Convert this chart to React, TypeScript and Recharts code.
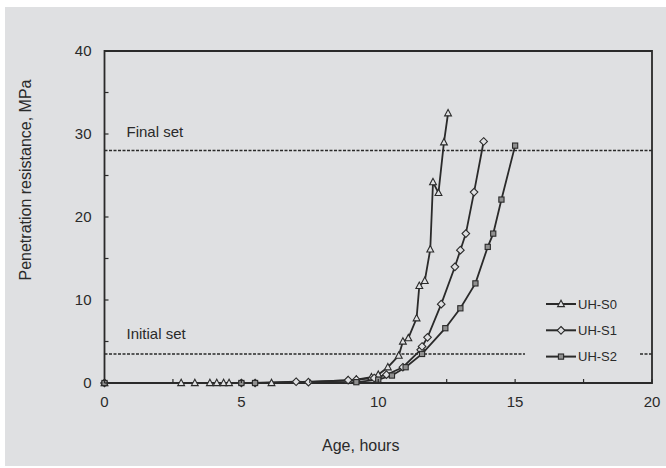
import {
  Label,
  Legend,
  Line,
  LineChart,
  ReferenceArea,
  ReferenceLine,
  XAxis,
  YAxis,
} from "recharts";

// penetration resistance (MPa) against age (hours) for the three mixes
const s0Hours = [0, 2.8, 3.3, 3.85, 4.1, 4.35, 4.55, 6.1, 8.9, 9.2, 9.75, 10.0, 10.35, 10.75, 10.9, 11.1, 11.4, 11.5, 11.7, 11.9, 12.0, 12.2, 12.4, 12.55];
const s0Mpa = [0, 0, 0, 0, 0, 0, 0, 0, 0.3, 0.4, 0.7, 1.0, 1.9, 3.3, 5.0, 5.4, 7.8, 11.7, 12.3, 16.1, 24.2, 22.9, 29.0, 32.5];

const s1Hours = [0, 5.0, 5.5, 7.0, 7.45, 8.9, 9.2, 9.85, 10.3, 10.9, 11.55, 11.6, 11.8, 12.3, 12.8, 13.0, 13.2, 13.5, 13.85];
const s1Mpa = [0, 0, 0, 0.15, 0.1, 0.35, 0.4, 0.6, 1.0, 1.9, 4.0, 4.4, 5.5, 9.5, 14.0, 16.0, 18.0, 23.0, 29.1];

const s2Hours = [0, 5.0, 5.5, 9.2, 10.0, 10.5, 11.0, 11.6, 12.45, 13.0, 13.55, 14.0, 14.2, 14.5, 15.0];
const s2Mpa = [0, 0, 0, 0.1, 0.4, 0.9, 1.9, 3.5, 6.6, 9.0, 12.0, 16.4, 18.0, 22.1, 28.6];

const seriesNames = ["UH-S0", "UH-S1", "UH-S2"];
const markerKinds = ["triangle", "diamond", "square"];

const xTicks = [0, 2.5, 5, 7.5, 10, 12.5, 15, 17.5, 20];
const yTicks = [0, 5, 10, 15, 20, 25, 30, 35, 40];

const initialSet = 3.5;
const finalSet = 28;

const BG = "#dfe0e2";
const INK = "#2a2a2a";
const FONT = "Arial, 'Liberation Sans', sans-serif";

const toPoints = (hours: number[], mpa: number[]) =>
  hours.map((h, i) => ({ hours: h, mpa: mpa[i] }));

const seriesData = [
  toPoints(s0Hours, s0Mpa),
  toPoints(s1Hours, s1Mpa),
  toPoints(s2Hours, s2Mpa),
];

const Marker = ({ kind, cx, cy }: { kind: string; cx: number; cy: number }) => {
  if (kind === "triangle") {
    return (
      <polygon
        points={`${cx},${cy - 3.8} ${cx - 3.4},${cy + 2.6} ${cx + 3.4},${cy + 2.6}`}
        fill={BG}
        stroke={INK}
        strokeWidth={1.1}
      />
    );
  }
  if (kind === "diamond") {
    return (
      <polygon
        points={`${cx},${cy - 3.8} ${cx + 3.8},${cy} ${cx},${cy + 3.8} ${cx - 3.8},${cy}`}
        fill={BG}
        stroke={INK}
        strokeWidth={1.1}
      />
    );
  }
  return (
    <rect x={cx - 2.6} y={cy - 2.6} width={5.2} height={5.2} fill="#8f8f8f" stroke={INK} strokeWidth={1.1} />
  );
};

const makeDot = (kind: string, prefix: string) => (props: any) => {
  const { cx, cy, index } = props;
  return (
    <g key={`${prefix}-${index}`}>
      <Marker kind={kind} cx={cx} cy={cy} />
    </g>
  );
};

// inside tick marks; numbers only on every other tick
const XTick = (props: any) => {
  const { x, y, payload } = props;
  const v = payload.value;
  return (
    <g>
      <line x1={x} y1={y} x2={x} y2={y - 4} stroke={INK} strokeWidth={1.2} />
      {v % 5 === 0 && (
        <text x={x} y={y + 19} dy="0.355em" textAnchor="middle" fontSize={15} fill={INK} fontFamily={FONT}>
          {v}
        </text>
      )}
    </g>
  );
};

const YTick = (props: any) => {
  const { x, y, payload } = props;
  const v = payload.value;
  return (
    <g>
      <line x1={x} y1={y} x2={x + 4} y2={y} stroke={INK} strokeWidth={1.2} />
      {v % 10 === 0 && (
        <text x={x - 13} y={y} dy="0.355em" textAnchor="end" fontSize={15} fill={INK} fontFamily={FONT}>
          {v}
        </text>
      )}
    </g>
  );
};

const LegendBox = () => (
  <svg width={114} height={82} style={{ display: "block" }}>
    {seriesNames.map((name, i) => {
      const cy = 14 + i * 26.3;
      return (
        <g key={name}>
          <line x1={21} y1={cy} x2={51} y2={cy} stroke={INK} strokeWidth={2} />
          <Marker kind={markerKinds[i]} cx={36} cy={cy} />
          <text x={53} y={cy} dy="0.355em" fontSize={13} fill={INK} fontFamily={FONT}>
            {name}
          </text>
        </g>
      );
    })}
  </svg>
);

export default function App() {
  return (
    <div style={{ position: "absolute", left: 0, top: 0, width: 666, height: 468, background: "#fff" }}>
      <div style={{ position: "absolute", left: 5, top: 7, width: 661, height: 459, background: BG }}>
        <LineChart
          width={661}
          height={459}
          margin={{ top: 44, right: 14, bottom: 53, left: 39.5 }}
          style={{ fontFamily: FONT }}
        >
          <XAxis
            dataKey="hours"
            type="number"
            domain={[0, 20]}
            ticks={xTicks}
            interval={0}
            axisLine={false}
            tickLine={false}
            tickSize={0}
            tickMargin={0}
            tick={<XTick />}
            height={30}
          >
            <Label
              value="Age, hours"
              position="center"
              dx={-17.5}
              dy={47}
              fontSize={16}
              fill={INK}
              fontFamily={FONT}
            />
          </XAxis>
          <YAxis
            type="number"
            domain={[0, 40]}
            ticks={yTicks}
            interval={0}
            axisLine={false}
            tickLine={false}
            tickSize={0}
            tickMargin={0}
            tick={<YTick />}
            width={60}
          >
            <Label
              value="Penetration resistance, MPa"
              position="center"
              angle={-90}
              dx={-49.5}
              dy={-37}
              fontSize={16}
              fill={INK}
              fontFamily={FONT}
            />
          </YAxis>
          <ReferenceArea x1={0} x2={20} y1={0} y2={40} fill="none" stroke={INK} strokeWidth={1.8} />
          <ReferenceLine y={finalSet} stroke={INK} strokeWidth={1.5} strokeDasharray="3 1.5">
            <Label value="Final set" position="insideBottomLeft" offset={14} dx={8} fontSize={15} fill={INK} fontFamily={FONT} />
          </ReferenceLine>
          <ReferenceLine y={initialSet} stroke={INK} strokeWidth={1.5} strokeDasharray="3 1.5">
            <Label value="Initial set" position="insideBottomLeft" offset={15} dx={7} fontSize={15} fill={INK} fontFamily={FONT} />
          </ReferenceLine>
          {seriesData.map((data, i) => (
            <Line
              key={seriesNames[i]}
              name={seriesNames[i]}
              data={data}
              dataKey="mpa"
              type="linear"
              stroke={INK}
              strokeWidth={1.8}
              dot={makeDot(markerKinds[i], seriesNames[i])}
              activeDot={false}
              isAnimationActive={false}
            />
          ))}
          <Legend
            layout="vertical"
            align="center"
            verticalAlign="middle"
            content={<LegendBox />}
            wrapperStyle={{ left: 520, top: 283, width: 114, height: 82, background: BG }}
          />
        </LineChart>
      </div>
    </div>
  );
}
